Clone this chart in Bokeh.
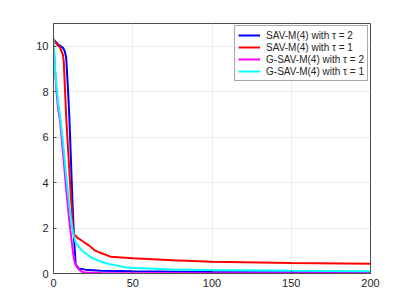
from bokeh.plotting import figure
from bokeh.models import Range1d, FixedTicker, Legend, LegendItem
from bokeh.embed import file_html
from bokeh.resources import INLINE

# --- data ---
blue_x = [0, 3, 6, 7, 8, 9, 10, 11, 12, 13, 14, 16, 20, 30, 50, 100, 150, 200]
blue_y = [10.3, 10.07, 9.93, 9.8, 9.5, 8.3, 6.9, 5.0, 3.1, 1.5, 0.4, 0.22, 0.17, 0.12, 0.1, 0.07, 0.06, 0.05]

red_x = [0, 2, 4, 5, 6, 6.5, 8, 10, 11, 12.5, 15, 18, 22, 26, 30, 36, 50, 75, 100, 150, 200]
red_y = [10.3, 10.1, 9.95, 9.8, 9.6, 9.3, 6.9, 4.5, 3.4, 1.75, 1.58, 1.44, 1.25, 1.02, 0.9, 0.74, 0.67, 0.58, 0.52, 0.46, 0.43]

mag_x = [0, 1, 2, 3, 4, 6, 8, 10, 12, 13, 14, 16, 18, 20, 30, 200]
mag_y = [10.3, 8.9, 7.9, 7.2, 6.8, 5.3, 3.7, 2.3, 1.1, 0.6, 0.38, 0.18, 0.08, 0.04, 0.02, 0.01]

cyan_x = [0, 1, 2, 3, 4, 6, 8, 10, 12, 14, 18, 24, 30, 35, 45, 52, 75, 100, 150, 200]
cyan_y = [10.3, 9.0, 8.2, 7.5, 7.0, 5.8, 4.3, 3.0, 1.9, 1.35, 1.0, 0.7, 0.52, 0.42, 0.28, 0.24, 0.18, 0.15, 0.12, 0.1]

labels = ["SAV-M(4) with \u03c4 = 2", "SAV-M(4) with \u03c4 = 1",
          "G-SAV-M(4) with \u03c4 = 2", "G-SAV-M(4) with \u03c4 = 1"]
colors = ["#0000FF", "#FF0000", "#FF00FF", "#00FFFF"]

x_ticks = [0, 50, 100, 150, 200]
y_ticks = [0, 2, 4, 6, 8, 10]

FONT = "Liberation Sans"
AX = "#4d4d4d"

p = figure(width=401, height=299, output_backend="svg", toolbar_location=None,
           x_range=Range1d(0, 200), y_range=Range1d(0, 11),
           min_border_left=53, min_border_right=31, min_border_top=23, min_border_bottom=26)
p.background_fill_color = "white"
p.border_fill_color = "white"
p.outline_line_color = AX
p.outline_line_width = 1

for ax, ticks in ((p.xaxis[0], x_ticks), (p.yaxis[0], y_ticks)):
    ax.ticker = FixedTicker(ticks=ticks)
    ax.major_tick_in = 3
    ax.major_tick_out = 0
    ax.minor_tick_line_color = None
    ax.axis_line_color = AX
    ax.major_tick_line_color = AX
    ax.major_label_text_font = FONT
    ax.major_label_text_font_size = "11px"
    ax.major_label_text_color = "#262626"
    ax.major_label_standoff = 5

p.xgrid.ticker = FixedTicker(ticks=x_ticks)
p.ygrid.ticker = FixedTicker(ticks=y_ticks)
p.xgrid.grid_line_color = "#ebebeb"
p.ygrid.grid_line_color = "#ebebeb"

rs = []
for xs, ys, c in ((blue_x, blue_y, colors[0]), (red_x, red_y, colors[1]),
                  (mag_x, mag_y, colors[2]), (cyan_x, cyan_y, colors[3])):
    rs.append(p.line(xs, ys, line_color=c, line_width=2))

legend = Legend(items=[LegendItem(label=l, renderers=[r]) for l, r in zip(labels, rs)],
                location="top_right", margin=2, padding=3, spacing=0,
                glyph_width=22, glyph_height=12, label_height=12, label_standoff=6,
                label_text_font=FONT, label_text_font_size="10px", label_text_color="#262626",
                border_line_color=AX, border_line_width=1, background_fill_alpha=1)
p.add_layout(legend, "center")

open("out.html", "w").write(file_html(p, INLINE))
